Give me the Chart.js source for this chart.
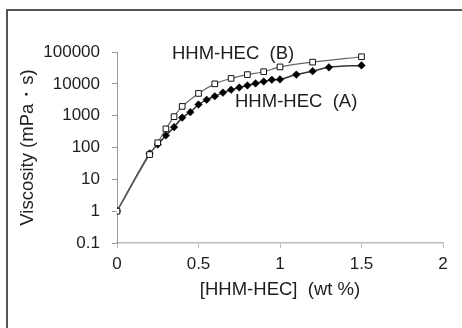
<!DOCTYPE html>
<html>
<head>
<meta charset="utf-8">
<script src="https://cdn.jsdelivr.net/npm/chart.js@4/dist/chart.umd.min.js"></script>
<style>
  body { margin: 0; background: #fff; }
  #wrap { position: relative; width: 462px; height: 328px; overflow: hidden; }
  #frame { position: absolute; left: 6px; top: 9px; width: 480px; height: 340px;
           border-left: 2px solid #555; border-top: 2px solid #555; }
  canvas { position: absolute; left: 0; top: 0; }
</style>
</head>
<body>
<div id="wrap">
  <div id="frame"></div>
  <canvas id="viscosity" width="462" height="328"></canvas>
</div>
<script>
// HHM-HEC (A)
const concA = [0, 0.2, 0.25, 0.3, 0.35, 0.4, 0.45, 0.5, 0.55, 0.6, 0.65, 0.7, 0.75, 0.8, 0.85, 0.9, 0.95, 1.0, 1.1, 1.2, 1.3, 1.5];
const viscA = [1, 65, 125, 240, 435, 870, 1290, 2240, 3150, 4060, 5300, 6550, 7700, 8900, 10300, 11800, 13400, 13800, 19500, 25000, 33000, 38000];

// HHM-HEC (B)
const concB = [0, 0.2, 0.25, 0.3, 0.35, 0.4, 0.5, 0.6, 0.7, 0.8, 0.9, 1.0, 1.2, 1.5];
const viscB = [1, 60, 141, 385, 930, 1950, 5000, 10000, 14800, 19500, 24000, 34000, 48000, 71000];

const yTicks = [0.1, 1, 10, 100, 1000, 10000, 100000];
const xTicks = [0, 0.5, 1, 1.5, 2];

const seriesLabels = [
  { text: 'HHM-HEC  (B)', x: 0.337, y: 89000 },
  { text: 'HHM-HEC  (A)', x: 0.724, y: 2700 }
];

const FONT = "'Liberation Sans', Arial, sans-serif";
Chart.defaults.font.family = FONT;
Chart.defaults.color = '#1e1e1e';

const toPoints = (xs, ys) => xs.map((x, i) => ({ x: x, y: ys[i] }));

// text labels placed in data coordinates
const seriesText = {
  id: 'seriesText',
  afterDatasetsDraw(chart) {
    const { ctx, scales } = chart;
    ctx.save();
    ctx.font = '18.5px ' + FONT;
    ctx.fillStyle = '#1e1e1e';
    ctx.textAlign = 'left';
    ctx.textBaseline = 'middle';
    seriesLabels.forEach(l => {
      ctx.fillText(l.text, scales.x.getPixelForValue(l.x), scales.y.getPixelForValue(l.y));
    });
    ctx.restore();
  }
};

new Chart(document.getElementById('viscosity'), {
  type: 'scatter',
  data: {
    datasets: [{
      label: 'HHM-HEC (B)',
      data: toPoints(concB, viscB),
      showLine: true,
      tension: 0.3,
      borderColor: '#666',
      borderWidth: 1.2,
      pointStyle: 'rect',
      pointRadius: 4,
      pointBorderWidth: 1,
      pointBorderColor: '#111',
      pointBackgroundColor: '#fff',
      order: 0
    }, {
      label: 'HHM-HEC (A)',
      data: toPoints(concA, viscA),
      showLine: true,
      tension: 0.3,
      borderColor: '#333',
      borderWidth: 1.5,
      pointStyle: 'rectRot',
      pointRadius: 3.8,
      pointBorderWidth: 0.5,
      pointBorderColor: '#000',
      pointBackgroundColor: '#000',
      order: 1
    }]
  },
  options: {
    responsive: false,
    animation: false,
    layout: { padding: { left: 10, top: 52, right: 19, bottom: 10 } },
    plugins: { legend: { display: false }, tooltip: { enabled: false } },
    scales: {
      x: {
        type: 'linear',
        min: 0,
        max: 2,
        afterBuildTicks: s => { s.ticks = xTicks.map(v => ({ value: v })); },
        afterFit: s => { s.height = 75; },
        ticks: { font: { size: 17 }, padding: 6, maxRotation: 0, callback: v => String(v) },
        grid: { drawOnChartArea: false, drawTicks: true, tickLength: 5, color: '#bbb' },
        border: { color: '#bbb', width: 1.5 },
        title: { display: true, text: '[HHM-HEC]  (wt %)', font: { size: 18.5 }, padding: { bottom: 17 } }
      },
      y: {
        type: 'logarithmic',
        min: 0.1,
        max: 100000,
        afterBuildTicks: s => { s.ticks = yTicks.map(v => ({ value: v })); },
        afterFit: s => { s.width = 107; },
        ticks: { font: { size: 17 }, padding: 12, callback: v => String(v) },
        grid: { drawOnChartArea: false, drawTicks: true, tickLength: 5, color: '#999' },
        border: { color: '#999', width: 1 },
        title: { display: true, text: 'Viscosity (mPa・s)', font: { size: 18.5 }, padding: { top: 7 } }
      }
    }
  },
  plugins: [seriesText]
});
</script>
</body>
</html>
